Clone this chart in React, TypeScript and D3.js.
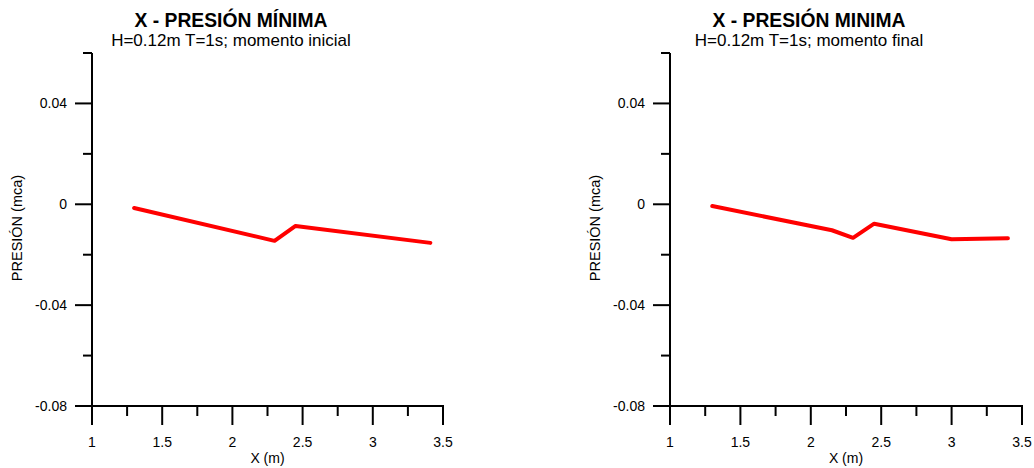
import React from "react";
import * as d3 from "d3";

const xInicial = [1.3, 2.3, 2.45, 3.41];
const pInicial = [-0.0015, -0.0145, -0.0086, -0.0153];
const xFinal = [1.3, 2.15, 2.3, 2.45, 3.0, 3.4];
const pFinal = [-0.0007, -0.0103, -0.0133, -0.0077, -0.0139, -0.0135];

const titles = ["X - PRESIÓN MÍNIMA", "X - PRESIÓN MINIMA"];
const subtitles = ["H=0.12m T=1s; momento inicial", "H=0.12m T=1s; momento final"];
const xMajorTicks = [1, 1.5, 2, 2.5, 3, 3.5];
const xMinorTicks = [1.25, 1.75, 2.25, 2.75, 3.25];
const yMajorTicks = [0.04, 0, -0.04, -0.08];
const yMinorTicks = [0.06, 0.02, -0.02, -0.06];
const xLabel = "X (m)";
const yLabel = "PRESIÓN (mca)";

const FONT = "'Liberation Sans', Arial, sans-serif";

function Panel({ x0, x1, xs, ys, title, subtitle }: { x0: number; x1: number; xs: number[]; ys: number[]; title: string; subtitle: string }) {
  const xScale = d3.scaleLinear().domain([1, 3.5]).range([x0, x1]);
  const yScale = d3.scaleLinear().domain([-0.08, 0.06]).range([406, 53]);
  const pts = xs.map((x, i) => [x, ys[i]] as [number, number]);
  const line = d3
    .line<[number, number]>()
    .x((d) => xScale(d[0]))
    .y((d) => yScale(d[1]));
  const fmt = (v: number) => (v === 0 ? "0" : String(v));
  const yAxisTop = yScale(0.06);
  const xAxisY = yScale(-0.08);
  return (
    <g>
      <text x={x0 + 139} y={27} textAnchor="middle" fontFamily={FONT} fontWeight="bold" fontSize={19.3}>
        {title}
      </text>
      <text x={x0 + 139} y={46} textAnchor="middle" fontFamily={FONT} fontSize={17}>
        {subtitle}
      </text>
      <line x1={x0} x2={x0} y1={yAxisTop} y2={xAxisY} stroke="#000" strokeWidth={2} />
      {yMajorTicks.map((v) => (
        <g key={"ym" + v}>
          <line x1={x0 - 17} x2={x0} y1={yScale(v)} y2={yScale(v)} stroke="#000" strokeWidth={2} />
          <text x={x0 - 25} y={yScale(v) + 5} textAnchor="end" fontFamily={FONT} fontSize={14}>
            {fmt(v)}
          </text>
        </g>
      ))}
      {yMinorTicks.map((v) => (
        <line key={"yn" + v} x1={x0 - 9} x2={x0} y1={yScale(v)} y2={yScale(v)} stroke="#000" strokeWidth={2} />
      ))}
      <line x1={x0 - 1} x2={x1 + 1} y1={xAxisY} y2={xAxisY} stroke="#000" strokeWidth={2} />
      {xMajorTicks.map((v) => (
        <g key={"xm" + v}>
          <line x1={xScale(v)} x2={xScale(v)} y1={xAxisY} y2={xAxisY + 19} stroke="#000" strokeWidth={2} />
          <text x={xScale(v)} y={447} textAnchor="middle" fontFamily={FONT} fontSize={14}>
            {String(v)}
          </text>
        </g>
      ))}
      {xMinorTicks.map((v) => (
        <line key={"xn" + v} x1={xScale(v)} x2={xScale(v)} y1={xAxisY} y2={xAxisY + 10} stroke="#000" strokeWidth={2} />
      ))}
      <text x={(x0 + x1) / 2} y={463} textAnchor="middle" fontFamily={FONT} fontSize={14}>
        {xLabel}
      </text>
      <text
        transform={`translate(${x0 - 70},228) rotate(-90)`}
        textAnchor="middle"
        fontFamily={FONT}
        fontSize={14.5}
      >
        {yLabel}
      </text>
      <path d={line(pts) || ""} fill="none" stroke="#ff0000" strokeWidth={4} strokeLinejoin="round" strokeLinecap="round" />
    </g>
  );
}

export default function App() {
  return (
    <svg width={1034} height={468} style={{ position: "absolute", left: 0, top: 0, background: "#fff" }}>
      <rect width={1034} height={468} fill="#fff" />
      <Panel x0={92} x1={443} xs={xInicial} ys={pInicial} title={titles[0]} subtitle={subtitles[0]} />
      <Panel x0={670} x1={1022} xs={xFinal} ys={pFinal} title={titles[1]} subtitle={subtitles[1]} />
    </svg>
  );
}
